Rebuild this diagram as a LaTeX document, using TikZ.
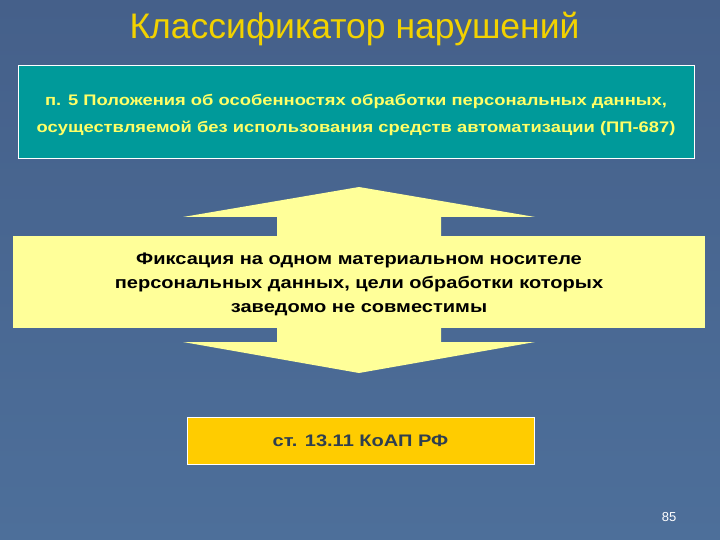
\documentclass[tikz,border=0pt]{standalone}
\usepackage{fontspec}
\setmainfont[FakeStretch = 1.2]{Liberation Sans}
\newfontfamily\titlefont{Liberation Sans}
\usetikzlibrary{positioning}

\definecolor{bgtop}{HTML}{45608A}
\definecolor{bgbot}{HTML}{4D6F9A}
\definecolor{ppteal}{HTML}{009A9A}
\definecolor{pptext}{HTML}{FFFF66}
\definecolor{titlegold}{HTML}{F2D200}
\definecolor{fixyellow}{HTML}{FFFF99}
\definecolor{koapgold}{HTML}{FFCC00}
\definecolor{koaptext}{HTML}{2F3F4F}

\tikzset{
	titletext/.style = {text = titlegold, anchor = base, font = \titlefont\fontsize{35.5}{40}\selectfont},
	tealbox/.style = {draw = white, fill = ppteal},
	tealtext/.style = {text = pptext, align = center, font = \bfseries\fontsize{15.3}{27}\selectfont},
	fixbox/.style = {fill = fixyellow},
	fixtext/.style = {text = black, align = center, font = \bfseries\fontsize{16.7}{24}\selectfont},
	goldbox/.style = {draw = white, fill = koapgold, text = koaptext,
		font = \bfseries\fontsize{16.7}{19}\selectfont}
}

\begin{document}
\begin{tikzpicture}[x = 1pt, y = -1pt]
	%	background
	\useasboundingbox (0, 0) rectangle (720, 540);
	\shade[top color = bgtop, bottom color = bgbot] (0, 0) rectangle (720, 540);
	
	%	title
	\node[titletext] (title) at (354.5, 38.3) {Классификатор нарушений};
	
	%	pp-687
	\node[tealbox, minimum width = 676pt, minimum height = 93pt] (pp) at (356, 111.5) {};
	\node[tealtext] (pptext) at ([yshift = -3pt]pp.center)
		{п. 5 Положения об особенностях обработки персональных данных,\\
		осуществляемой без использования средств автоматизации (ПП-687)};
	
	%	double arrow
	\def\shl{277}
	\def\shr{441}
	\def\hdl{183}
	\def\hdr{535}
	\def\tipx{359}
	\fill[fixyellow] (\shl, 236) -- (\shl, 217) -- (\hdl, 217) -- (\tipx, 187) -- (\hdr, 217) -- (\shr, 217) -- (\shr, 236)
		-- (\shr, 328) -- (\shr, 342) -- (\hdr, 342) -- (\tipx, 373) -- (\hdl, 342) -- (\shl, 342) -- (\shl, 328) -- cycle;
	
	\node[fixbox, minimum width = 692pt, minimum height = 92pt] (fix) at (359, 282) {};
	\node[fixtext] (fixlabel) at ([yshift = -2pt]fix.center)
		{Фиксация на одном материальном носителе\\
		персональных данных, цели обработки которых\\
		заведомо не совместимы};
	
	%	koap
	\node[goldbox, minimum width = 347pt, minimum height = 47pt] (koap) at (360.5, 440.5) {ст. 13.11 КоАП РФ};
	
	%	page number
	\node[text = white, font = \titlefont\fontsize{13}{15}\selectfont] (pagenum) at (669, 517) {85};
\end{tikzpicture}
\end{document}
